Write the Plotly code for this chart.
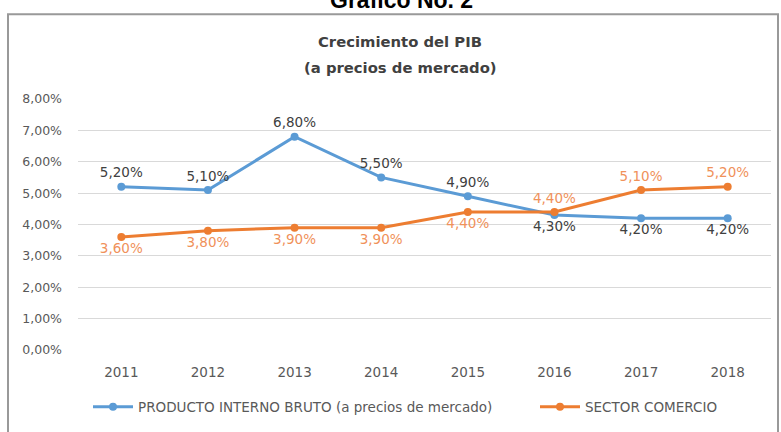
import plotly.graph_objects as go

# Datos
anios = ["2011", "2012", "2013", "2014", "2015", "2016", "2017", "2018"]
pib = [5.2, 5.1, 6.8, 5.5, 4.9, 4.3, 4.2, 4.2]
comercio = [3.6, 3.8, 3.9, 3.9, 4.4, 4.4, 5.1, 5.2]
y_ticks = [0, 1, 2, 3, 4, 5, 6, 7, 8]

nombre_pib = "PRODUCTO INTERNO BRUTO (a precios de mercado)"
nombre_com = "SECTOR COMERCIO"

AZUL = "#5B9BD5"
NARANJA = "#ED7D31"
GRIS = "#595959"
FUENTE = "DejaVu Sans"


def pct(v):
    return f"{v:.2f}%".replace(".", ",")


W, H = 781, 432
L, R, T, B = 78, 10, 99, 78
PW, PH = W - L - R, H - T - B


def px(x):
    return (x - L) / PW


def py(y):
    return (H - B - y) / PH


pos_pib = ["top center"] * 5 + ["bottom center"] * 3
pos_com = ["bottom center"] * 5 + ["top center"] * 3

fig = go.Figure()
fig.add_trace(go.Scatter(
    x=anios, y=pib, name=nombre_pib, mode="lines+markers+text",
    line=dict(color=AZUL, width=3), marker=dict(color=AZUL, size=8),
    text=[pct(v) for v in pib], textposition=pos_pib,
    textfont=dict(family=FUENTE, size=13.5, color="#404040"),
    hoverinfo="skip", legend="legend",
))
fig.add_trace(go.Scatter(
    x=anios, y=comercio, name=nombre_com, mode="lines+markers+text",
    line=dict(color=NARANJA, width=3), marker=dict(color=NARANJA, size=8),
    text=[pct(v) for v in comercio], textposition=pos_com,
    textfont=dict(family=FUENTE, size=13.5, color="#F0915A"),
    hoverinfo="skip", legend="legend2",
))

leyenda = dict(
    orientation="h", yanchor="middle", xanchor="left",
    font=dict(family=FUENTE, size=13.5, color=GRIS),
    itemwidth=40, bgcolor="rgba(0,0,0,0)",
)

fig.update_layout(
    width=W, height=H,
    margin=dict(l=L, r=R, t=T, b=B, pad=0),
    paper_bgcolor="white", plot_bgcolor="white",
    font=dict(family=FUENTE, size=13, color=GRIS),
    showlegend=True,
    legend=dict(leyenda, x=px(88), y=py(412)),
    legend2=dict(leyenda, x=px(535), y=py(412)),
    xaxis=dict(
        type="category", showgrid=False, showline=False, zeroline=False,
        ticks="", ticklabelstandoff=12,
        tickfont=dict(family=FUENTE, size=13.5, color=GRIS),
        range=[-0.5, len(anios) - 0.5],
    ),
    yaxis=dict(
        range=[0, 8], tickvals=y_ticks, ticktext=[pct(v) for v in y_ticks],
        showgrid=True, gridcolor="#D9D9D9", gridwidth=1,
        zeroline=False, showline=False, ticks="", ticklabelstandoff=15,
        tickfont=dict(family=FUENTE, size=12.5, color=GRIS),
    ),
    shapes=[dict(
        type="rect", xref="paper", yref="paper",
        x0=px(8), x1=px(778), y0=py(445), y1=py(13),
        line=dict(color="#999999", width=2), fillcolor="rgba(0,0,0,0)",
        layer="below",
    )],
    annotations=[
        dict(text="<b>Gráfico No. 2</b>", xref="paper", yref="paper",
             x=px(401), y=py(-2), xanchor="center", yanchor="middle",
             showarrow=False, font=dict(family="Liberation Sans", size=23, color="black")),
        dict(text="<b>Crecimiento del PIB</b>", xref="paper", yref="paper",
             x=px(400), y=py(41), xanchor="center", yanchor="middle",
             showarrow=False, font=dict(family=FUENTE, size=14.8, color="#404040")),
        dict(text="<b>(a precios de mercado)</b>", xref="paper", yref="paper",
             x=px(400), y=py(67), xanchor="center", yanchor="middle",
             showarrow=False, font=dict(family=FUENTE, size=14.8, color="#404040")),
    ],
)

fig.write_html("out.html")
